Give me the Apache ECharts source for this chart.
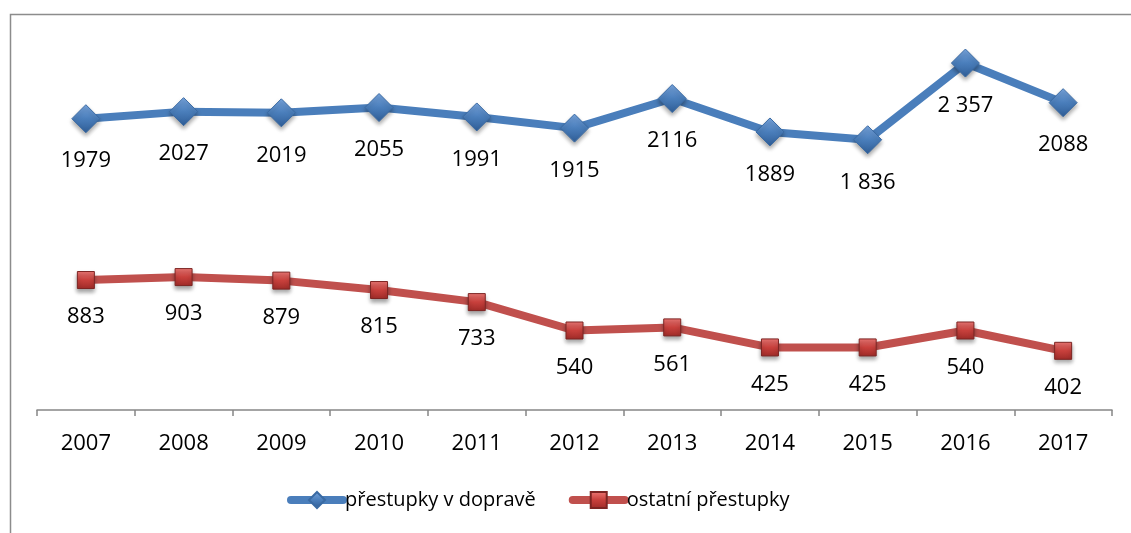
<!DOCTYPE html>
<html>
<head>
<meta charset="utf-8">
<script src="https://cdn.jsdelivr.net/npm/echarts@6/dist/echarts.min.js"></script>
<style>
html,body{margin:0;padding:0;background:#fff;}
#chart{width:1131px;height:533px;}
</style>
</head>
<body>
<div id="chart"></div>
<script>
const years = ['2007','2008','2009','2010','2011','2012','2013','2014','2015','2016','2017'];
const dopravaValues = [1979, 2027, 2019, 2055, 1991, 1915, 2116, 1889, 1836, 2357, 2088];
const dopravaLabels = ['1979','2027','2019','2055','1991','1915','2116','1889','1 836','2 357','2088'];
const ostatniValues = [883, 903, 879, 815, 733, 540, 561, 425, 425, 540, 402];
const ostatniLabels = ['883','903','879','815','733','540','561','425','425','540','402'];
const seriesNames = ['přestupky v dopravě', 'ostatní přestupky'];

const FONT = '"Open Sans", "Noto Sans", sans-serif';
const chart = echarts.init(document.getElementById('chart'), null, {renderer: 'canvas'});

const blueGrad = new echarts.graphic.LinearGradient(0, 0, 0, 1, [
  {offset: 0, color: '#7aa7e0'}, {offset: 0.5, color: '#4a7ebb'}, {offset: 1, color: '#2f5d96'}
]);
const redGrad = new echarts.graphic.LinearGradient(0, 0, 0, 1, [
  {offset: 0, color: '#f07a77'}, {offset: 0.5, color: '#c8403c'}, {offset: 1, color: '#9e2b28'}
]);

function makeLabel(arr) {
  return {
    show: true, position: 'bottom', distance: 17,
    fontFamily: FONT, fontSize: 22, color: '#000',
    formatter: p => arr[p.dataIndex]
  };
}

chart.setOption({
  animation: false,
  graphic: [{
    type: 'rect', left: 8, top: 12, silent: true,
    shape: {width: 1300, height: 700},
    style: {fill: 'none', stroke: '#8c8c8c', lineWidth: 1.5}
  }],
  grid: {left: 37, right: 19, top: 42, bottom: 123, containLabel: false},
  legend: {
    bottom: 18, left: 282,
    itemWidth: 52, itemHeight: 20, itemGap: 33,
    lineStyle: {width: 8, cap: 'round'},
    textStyle: {fontFamily: FONT, fontSize: 20, color: '#000', padding: [0,0,0,-3]},
    data: seriesNames
  },
  xAxis: {
    type: 'category', data: years, boundaryGap: true,
    axisLine: {lineStyle: {color: '#868686', width: 1.5}},
    axisTick: {show: true, interval: 0, length: 6, lineStyle: {color: '#868686', width: 1.5}},
    axisLabel: {fontFamily: FONT, fontSize: 22, color: '#000', margin: 23, interval: 0}
  },
  yAxis: {type: 'value', min: 0, max: 2500, show: false, splitLine: {show: false}},
  series: [{
    name: seriesNames[0], type: 'line', data: dopravaValues,
    symbol: 'diamond', symbolSize: 28,
    lineStyle: {color: '#4a7ebb', width: 8},
    itemStyle: {color: blueGrad, borderColor: '#3a6aa3', borderWidth: 1,
      shadowBlur: 4, shadowOffsetY: 3, shadowColor: 'rgba(0,0,0,0.35)'},
    label: makeLabel(dopravaLabels)
  }, {
    name: seriesNames[1], type: 'line', data: ostatniValues,
    symbol: 'rect', symbolSize: 17,
    lineStyle: {color: '#c0504d', width: 8},
    itemStyle: {color: redGrad, borderColor: '#7d2523', borderWidth: 1,
      shadowBlur: 4, shadowOffsetY: 3, shadowColor: 'rgba(0,0,0,0.35)'},
    label: makeLabel(ostatniLabels)
  }]
});
</script>
</body>
</html>
